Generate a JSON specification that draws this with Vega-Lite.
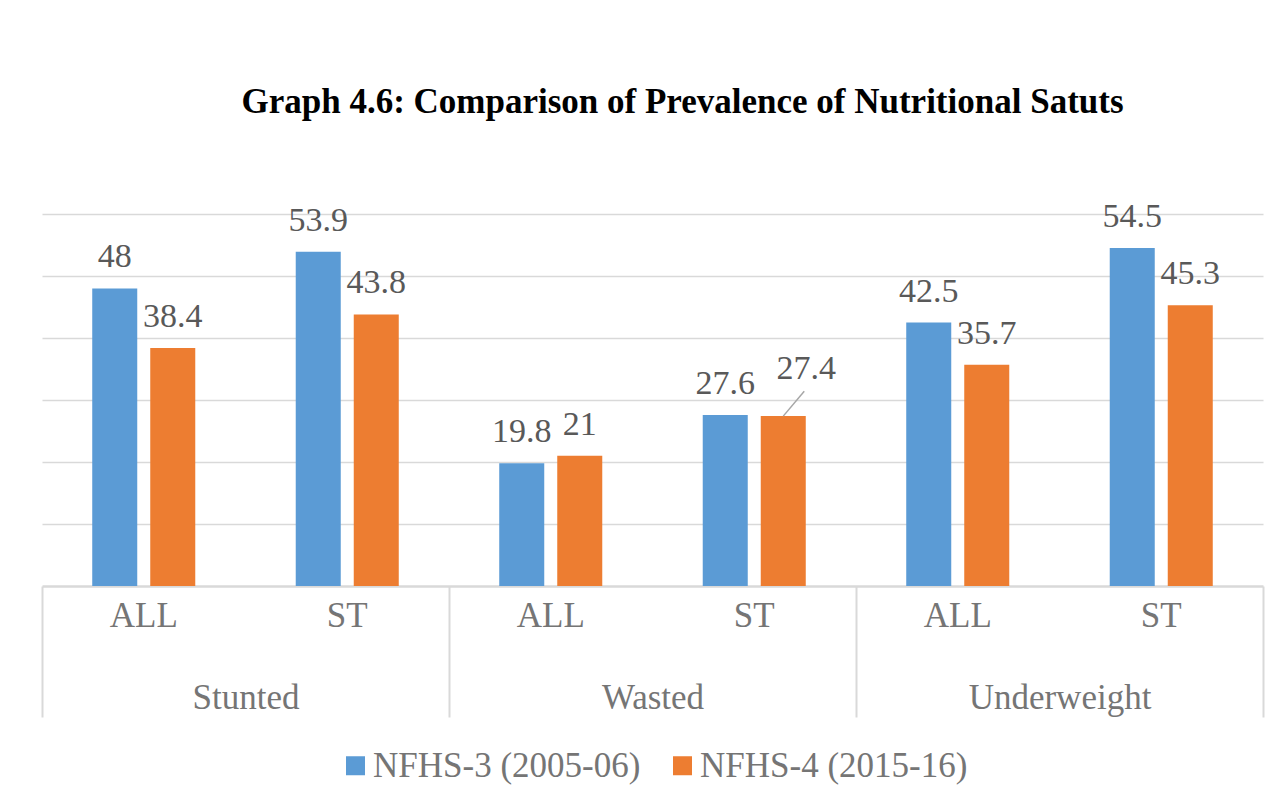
{
  "$schema": "https://vega.github.io/schema/vega-lite/v6.json",
  "width": 1221,
  "height": 372,
  "autosize": "none",
  "padding": {"left": 42, "top": 214, "right": 17, "bottom": 200},
  "background": "white",
  "title": {
    "text": "Graph 4.6: Comparison of Prevalence of Nutritional Satuts",
    "font": "Liberation Serif",
    "fontSize": 35,
    "fontWeight": "bold",
    "color": "black",
    "frame": "group",
    "anchor": "middle",
    "dx": 30,
    "offset": 80
  },
  "data": {
    "values": [
      {"category": "Stunted", "key": "Stunted|ALL", "series": "NFHS-3 (2005-06)", "value": 48},
      {"category": "Stunted", "key": "Stunted|ALL", "series": "NFHS-4 (2015-16)", "value": 38.4},
      {"category": "Stunted", "key": "Stunted|ST", "series": "NFHS-3 (2005-06)", "value": 53.9},
      {"category": "Stunted", "key": "Stunted|ST", "series": "NFHS-4 (2015-16)", "value": 43.8},
      {"category": "Wasted", "key": "Wasted|ALL", "series": "NFHS-3 (2005-06)", "value": 19.8},
      {"category": "Wasted", "key": "Wasted|ALL", "series": "NFHS-4 (2015-16)", "value": 21},
      {"category": "Wasted", "key": "Wasted|ST", "series": "NFHS-3 (2005-06)", "value": 27.6},
      {"category": "Wasted", "key": "Wasted|ST", "series": "NFHS-4 (2015-16)", "value": 27.4},
      {"category": "Underweight", "key": "Underweight|ALL", "series": "NFHS-3 (2005-06)", "value": 42.5},
      {"category": "Underweight", "key": "Underweight|ALL", "series": "NFHS-4 (2015-16)", "value": 35.7},
      {"category": "Underweight", "key": "Underweight|ST", "series": "NFHS-3 (2005-06)", "value": 54.5},
      {"category": "Underweight", "key": "Underweight|ST", "series": "NFHS-4 (2015-16)", "value": 45.3}
    ]
  },
  "layer": [
    {
      "encoding": {
        "x": {
          "field": "key",
          "type": "nominal",
          "sort": ["Stunted|ALL", "Stunted|ST", "Wasted|ALL", "Wasted|ST", "Underweight|ALL", "Underweight|ST"],
          "scale": {"paddingInner": 0, "paddingOuter": 0},
          "axis": {
            "orient": "bottom",
            "title": null,
            "labelExpr": "split(datum.value, '|')[1]",
            "labelAngle": 0,
            "labelFont": "Liberation Serif",
            "labelFontSize": 35,
            "labelColor": "#757575",
            "labelPadding": 12,
            "ticks": false,
            "grid": false,
            "domainColor": "#d9d9d9",
            "domainWidth": 2.5
          }
        },
        "xOffset": {
          "field": "series",
          "type": "nominal",
          "scale": {"paddingInner": 0.224, "paddingOuter": 0.866}
        },
        "y": {
          "field": "value",
          "type": "quantitative",
          "scale": {"domain": [0, 60], "nice": false},
          "axis": {
            "title": null,
            "labels": false,
            "ticks": false,
            "domain": false,
            "grid": true,
            "gridColor": "#d9d9d9",
            "gridWidth": 1.5,
            "values": [10, 20, 30, 40, 50, 60]
          }
        }
      },
      "layer": [
        {
          "mark": {"type": "bar"},
          "encoding": {
            "color": {
              "field": "series",
              "type": "nominal",
              "scale": {"domain": ["NFHS-3 (2005-06)", "NFHS-4 (2015-16)"], "range": ["#5b9bd5", "#ed7d31"]},
              "legend": {
                "orient": "bottom",
                "direction": "horizontal",
                "title": null,
                "symbolType": "square",
                "symbolSize": 361,
                "symbolStrokeWidth": 0,
                "labelFont": "Liberation Serif",
                "labelFontSize": 35,
                "labelColor": "#757575",
                "labelOffset": 0,
                "columnPadding": 24,
                "offset": 30,
                "labelLimit": 400
              }
            }
          }
        },
        {
          "transform": [{"filter": "datum.value != 27.4"}],
          "mark": {"type": "text", "font": "Liberation Serif", "fontSize": 34, "color": "#595959", "baseline": "alphabetic", "dy": -21},
          "encoding": {"text": {"field": "value", "type": "quantitative"}}
        },
        {
          "transform": [{"filter": "datum.value == 27.4"}],
          "mark": {"type": "text", "font": "Liberation Serif", "fontSize": 34, "color": "#595959", "baseline": "alphabetic", "dy": -37, "dx": 23},
          "encoding": {"text": {"field": "value", "type": "quantitative"}}
        },
        {
          "transform": [{"filter": "datum.value == 27.4"}],
          "mark": {"type": "rule", "color": "#a6a6a6", "strokeWidth": 1.5, "x2Offset": 50},
          "encoding": {
            "x2": {"field": "key"},
            "y2": {"datum": 31.4}
          }
        }
      ]
    },
    {
      "mark": {"type": "text"},
      "encoding": {
        "x": {
          "field": "category",
          "type": "nominal",
          "sort": ["Stunted", "Wasted", "Underweight"],
          "scale": {"paddingInner": 0, "paddingOuter": 0},
          "axis": {
            "orient": "bottom",
            "title": null,
            "labelAngle": 0,
            "labelFont": "Liberation Serif",
            "labelFontSize": 35,
            "labelColor": "#757575",
            "labelPadding": -37,
            "labelLimit": 400,
            "domain": false,
            "grid": false,
            "ticks": true,
            "tickBand": "extent",
            "tickSize": 131,
            "tickColor": "#d9d9d9",
            "tickWidth": 2
          }
        },
        "text": {"value": ""}
      }
    }
  ],
  "resolve": {"scale": {"x": "independent"}},
  "config": {
    "view": {"stroke": null},
    "legend": {"layout": {"bottom": {"anchor": "middle"}}}
  }
}
